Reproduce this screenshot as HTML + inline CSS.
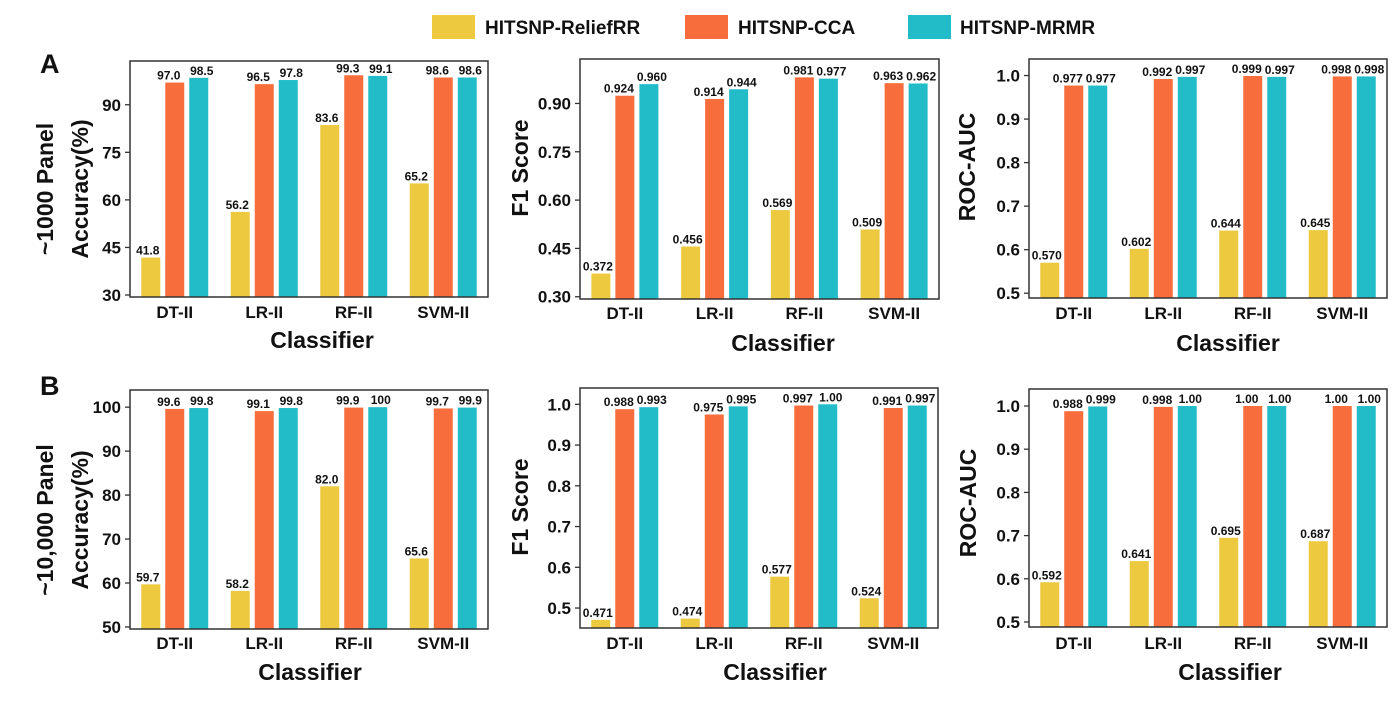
<!DOCTYPE html>
<html><head><meta charset="utf-8">
<style>
html,body{margin:0;padding:0;background:#fff;}
svg{display:block;font-family:"Liberation Sans",Arial,sans-serif;font-weight:bold;}
</style></head>
<body>
<svg id="fig" width="1399" height="706" viewBox="0 0 1399 706" xmlns="http://www.w3.org/2000/svg">
  <g>
    <rect x="432" y="15" width="43" height="24" fill="#EDC940"/>
    <text x="485" y="34" font-size="19" fill="#111">HITSNP-ReliefRR</text>
    <rect x="685" y="15" width="43" height="24" fill="#F76D3C"/>
    <text x="738" y="34" font-size="19" fill="#111">HITSNP-CCA</text>
    <rect x="908" y="15" width="43" height="24" fill="#22BCC9"/>
    <text x="960" y="34" font-size="19" fill="#111">HITSNP-MRMR</text>
  </g>
  <text x="40" y="73" font-size="27" fill="#111">A</text>
  <text x="40" y="395" font-size="27" fill="#111">B</text>
</svg>
<script>
const categories = ["DT-II","LR-II","RF-II","SVM-II"];
const seriesNames = ["HITSNP-ReliefRR","HITSNP-CCA","HITSNP-MRMR"];
// Panel A values
const accA_relief = [41.8,56.2,83.6,65.2];
const accA_cca = [97.0,96.5,99.3,98.6];
const accA_mrmr = [98.5,97.8,99.1,98.6];
const f1A_relief = [0.372,0.456,0.569,0.509];
const f1A_cca = [0.924,0.914,0.981,0.963];
const f1A_mrmr = [0.960,0.944,0.977,0.962];
const aucA_relief = [0.570,0.602,0.644,0.645];
const aucA_cca = [0.977,0.992,0.999,0.998];
const aucA_mrmr = [0.977,0.997,0.997,0.998];
// Panel B values
const accB_relief = [59.7,58.2,82.0,65.6];
const accB_cca = [99.6,99.1,99.9,99.7];
const accB_mrmr = [99.8,99.8,100,99.9];
const f1B_relief = [0.471,0.474,0.577,0.524];
const f1B_cca = [0.988,0.975,0.997,0.991];
const f1B_mrmr = [0.993,0.995,1.00,0.997];
const aucB_relief = [0.592,0.641,0.695,0.687];
const aucB_cca = [0.988,0.998,1.00,1.00];
const aucB_mrmr = [0.999,1.00,1.00,1.00];
// tick labels
const ticksAccA = [30,45,60,75,90];
const ticksF1A = [0.30,0.45,0.60,0.75,0.90];
const ticksAucA = [0.5,0.6,0.7,0.8,0.9,1.0];
const ticksAccB = [50,60,70,80,90,100];
const ticksF1B = [0.5,0.6,0.7,0.8,0.9,1.0];
const ticksAucB = [0.5,0.6,0.7,0.8,0.9,1.0];

const colors = ["#EDC940","#F76D3C","#22BCC9"];
const labelShift = [-3,-6,3];
const NS = "http://www.w3.org/2000/svg";
const svg = document.getElementById("fig");
function el(tag, attrs, parent){const e=document.createElementNS(NS,tag);for(const k in attrs)e.setAttribute(k,attrs[k]);(parent||svg).appendChild(e);return e;}

const panels = [
 {id:"acc-a",series:[accA_relief,accA_cca,accA_mrmr],ticks:ticksAccA,tdec:0,L:130,R:488,T:61,B:297,d0:29.37,d1:103.8,kind:"acc",ylab:["~1000 Panel","Accuracy(%)"],ylx:[45,80],yly:189,cy:312,clx:322,cly:340},
 {id:"f1-a",series:[f1A_relief,f1A_cca,f1A_mrmr],ticks:ticksF1A,tdec:2,L:580,R:939,T:59,B:299,d0:0.293,d1:1.038,kind:"f",ylab:["F1 Score"],ylx:[520],yly:168,cy:313,clx:783,cly:343},
 {id:"auc-a",series:[aucA_relief,aucA_cca,aucA_mrmr],ticks:ticksAucA,tdec:1,L:1029,R:1387,T:59,B:298,d0:0.489,d1:1.038,kind:"f",ylab:["ROC-AUC"],ylx:[967],yly:167,cy:313,clx:1228,cly:343},
 {id:"acc-b",series:[accB_relief,accB_cca,accB_mrmr],ticks:ticksAccB,tdec:0,L:130,R:488,T:390,B:629,d0:49.54,d1:103.9,kind:"acc",ylab:["~10,000 Panel","Accuracy(%)"],ylx:[45,80],yly:520,cy:643,clx:310,cly:672},
 {id:"f1-b",series:[f1B_relief,f1B_cca,f1B_mrmr],ticks:ticksF1B,tdec:1,L:580,R:938,T:388,B:628,d0:0.451,d1:1.04,kind:"f",ylab:["F1 Score"],ylx:[520],yly:507,cy:643,clx:775,cly:672},
 {id:"auc-b",series:[aucB_relief,aucB_cca,aucB_mrmr],ticks:ticksAucB,tdec:1,L:1029,R:1387,T:389,B:627,d0:0.4884,d1:1.0394,kind:"f",ylab:["ROC-AUC"],ylx:[968],yly:503,cy:643,clx:1230,cly:672}
];

function fmt(v,kind){
  if(kind==="acc") return v>=99.95?"100":v.toFixed(1);
  return v>=0.9995?"1.00":v.toFixed(3);
}

panels.forEach(p=>{
  const g=el("g",{});
  
  
  const y=v=>p.B-(v-p.d0)/(p.d1-p.d0)*(p.B-p.T);
  const bw=(p.R-p.L)/categories.length;
  const barW=19, step=24;
  p.series.forEach((s,si)=>{
    s.forEach((v,ci)=>{
      const cx=p.L+bw*(ci+0.5)+(si-1)*step;
      const yy=Math.max(p.T,y(v));
      const r=el("rect",{x:cx-barW/2,y:yy,width:barW,height:p.B-yy,fill:colors[si]},g);
      
      
      const t=el("text",{x:cx+labelShift[si],y:yy-3,"font-size":12,"text-anchor":"middle",fill:"#111"},g);
      t.textContent=fmt(v,p.kind);
      
      
    });
  });
  const f=el("rect",{x:p.L,y:p.T,width:p.R-p.L,height:p.B-p.T,fill:"none",stroke:"#333","stroke-width":1.5},g);
  
  
  p.ticks.forEach(tv=>{
    const yy=y(tv);
    const tk=el("line",{x1:p.L-5,x2:p.L,y1:yy,y2:yy,stroke:"#333","stroke-width":1.3},g);
    
    
    const tl=el("text",{x:p.L-9,y:yy+6,"font-size":17,"text-anchor":"end",fill:"#111"},g);
    tl.textContent=tv.toFixed(p.tdec);
    
    
  });
  categories.forEach((c,ci)=>{
    const t=el("text",{x:p.L+bw*(ci+0.5),y:p.cy+6,"font-size":17,"text-anchor":"middle",fill:"#111"},g);
    t.textContent=c;
    
    
  });
  const xl=el("text",{x:p.clx,y:p.cly+8,"font-size":23,"text-anchor":"middle",fill:"#111"},g);
  xl.textContent="Classifier";
  
  
  p.ylab.forEach((lab,i)=>{
    const t=el("text",{x:0,y:0,"font-size":23,"text-anchor":"middle",fill:"#111",transform:`translate(${p.ylx[i]+8},${p.yly}) rotate(-90)`},g);
    t.textContent=lab;
    
    
  });
});
</script>
</body></html>
